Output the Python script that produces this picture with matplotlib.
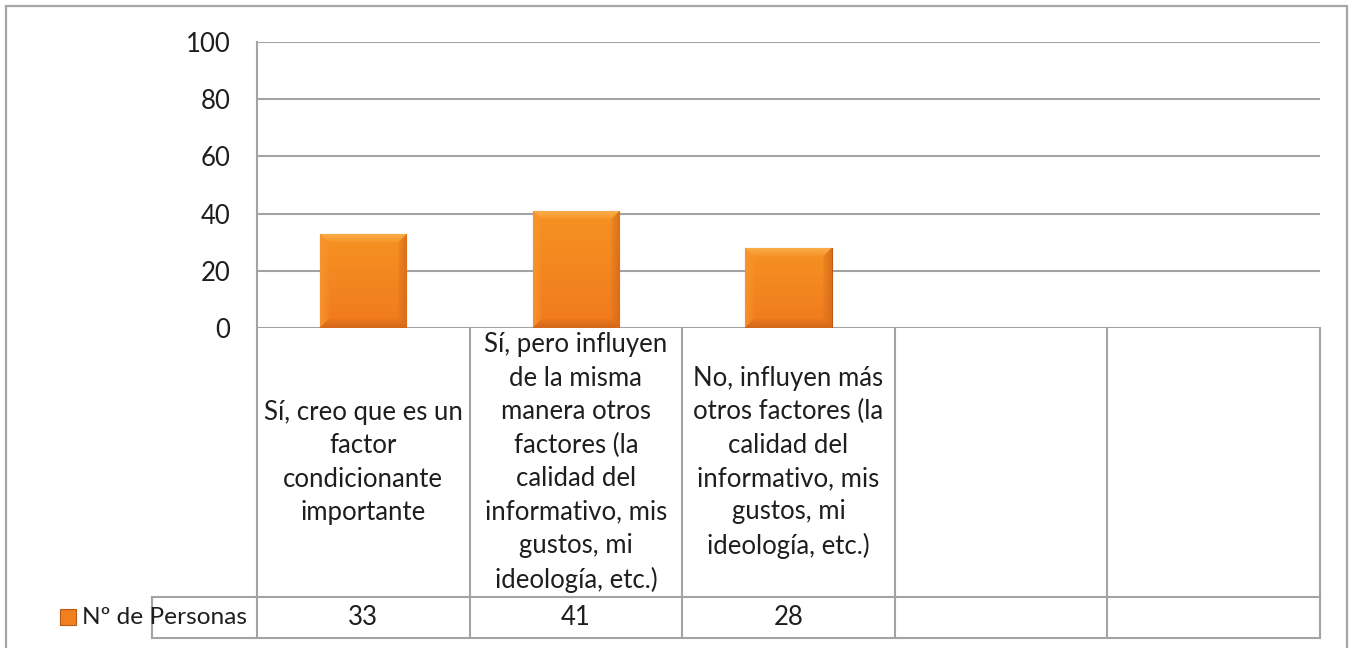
import numpy as np
import matplotlib
matplotlib.use('Agg')
import matplotlib.pyplot as plt
from matplotlib.patches import Rectangle
from matplotlib.transforms import blended_transform_factory

# data
categories = [
    'Sí, creo que es un\nfactor\ncondicionante\nimportante',
    'Sí, pero influyen\nde la misma\nmanera otros\nfactores (la\ncalidad del\ninformativo, mis\ngustos, mi\nideología, etc.)',
    'No, influyen más\notros factores (la\ncalidad del\ninformativo, mis\ngustos, mi\nideología, etc.)',
    '',
    '',
]
values = [33, 41, 28, None, None]
value_labels = ['33', '41', '28', '', '']
series_name = 'Nº de Personas'
yticks = [0, 20, 40, 60, 80, 100]

plt.rcParams['font.family'] = ['Lato', 'DejaVu Sans']
FS = 18.5
TXT = '#1e1e1e'
GRID = '#a3a3a3'

fig = plt.figure(figsize=(13.49, 6.48), dpi=100)
W, H = 1349, 648

# outer chart border
fig.patches.append(Rectangle((6 / W, -0.05), (1347 - 6) / W, 1.05 - 6 / H,
                             transform=fig.transFigure, fill=False,
                             edgecolor='#a6a6a6', lw=1.6))

ax = fig.add_axes([257 / W, (H - 328) / H, 1063 / W, 286 / H])
n = len(categories)
ax.set_xlim(-0.5, n - 0.5)
ax.set_ylim(0, 100)
ax.set_yticks(yticks)
ax.set_yticklabels([str(v) for v in yticks], fontsize=FS, color=TXT)
ax.tick_params(axis='y', length=0, pad=19)
ax.set_xticks([])
for s in ['top', 'right', 'bottom']:
    ax.spines[s].set_visible(False)
ax.spines['left'].set_color(GRID)
ax.spines['left'].set_linewidth(1.5)
ax.yaxis.grid(True, color=GRID, lw=1.5)
ax.set_axisbelow(True)


def bevel_img(wpx, hpx, b=9):
    yy, xx = np.mgrid[0:hpx, 0:wpx].astype(float)
    t = yy / max(hpx - 1, 1)
    top = np.array([246, 146, 34.0])
    bot = np.array([241, 122, 30.0])
    img = top * (1 - t[..., None]) + bot * t[..., None]
    d = np.stack([yy, hpx - 1 - yy, xx, wpx - 1 - xx])
    dmin = d.min(axis=0)
    side = d.argmin(axis=0)
    cols = {0: (252, 180, 84), 1: (205, 100, 26), 2: (247, 150, 48), 3: (212, 106, 26)}
    fade = np.clip(1 - dmin / b, 0, 1) ** 0.7
    for k, c in cols.items():
        m = (dmin < b) & (side == k)
        f = fade[m][:, None] * 0.8
        img[m] = img[m] * (1 - f) + np.array(c) * f
    return np.clip(img / 255.0, 0, 1)


fig.canvas.draw()
bw = 0.405
px_x = ax.transData.transform((1, 0))[0] - ax.transData.transform((0, 0))[0]
px_y = ax.transData.transform((0, 1))[1] - ax.transData.transform((0, 0))[1]
for i, v in enumerate(values):
    if v is None:
        continue
    bar = ax.bar(i, v, width=bw, color='#f3851f', edgecolor='#b85a1a',
                 lw=0.8, zorder=3)[0]
    img = bevel_img(max(int(bw * px_x), 2), max(int(v * px_y), 2))
    im = ax.imshow(img, extent=(i - bw / 2, i + bw / 2, 0, v), aspect='auto',
                   origin='upper', zorder=3.5, interpolation='bilinear')
    im.set_clip_path(bar)
ax.set_xlim(-0.5, n - 0.5)
ax.set_ylim(0, 100)

# data table below the axis
tr = blended_transform_factory(ax.transData, ax.transAxes)
row1 = -(597 - 328) / 286
row2 = -(638 - 328) / 286
head_x = -0.5 - (257 - 152) / 1063 * n
lkw = dict(transform=tr, color=GRID, lw=1.5, clip_on=False, zorder=1)

ax.plot([head_x, n - 0.5], [row1, row1], **lkw)
ax.plot([head_x, n - 0.5], [row2, row2], **lkw)
ax.plot([head_x, head_x], [row1, row2], **lkw)
for k in range(n + 1):
    ax.plot([k - 0.5, k - 0.5], [0, row2], **lkw)

for i, lab in enumerate(categories):
    ax.text(i, row1 / 2, lab, transform=tr, ha='center', va='center',
            fontsize=FS, color=TXT, linespacing=1.42, clip_on=False)
for i, lab in enumerate(value_labels):
    ax.text(i, (row1 + row2) / 2, lab, transform=tr, ha='center',
            va='center', fontsize=FS, color=TXT, clip_on=False)

# legend key + series name
fig.patches.append(Rectangle((60 / W, (H - 625) / H), 16 / W, 16 / H,
                             transform=fig.transFigure, facecolor='#f0801e',
                             edgecolor='#b85a1a', lw=0.8))
fig.text(82 / W, (H - 617) / H, series_name, ha='left', va='center',
         fontsize=17.6, color=TXT)

fig.savefig('out.png', dpi=100)
